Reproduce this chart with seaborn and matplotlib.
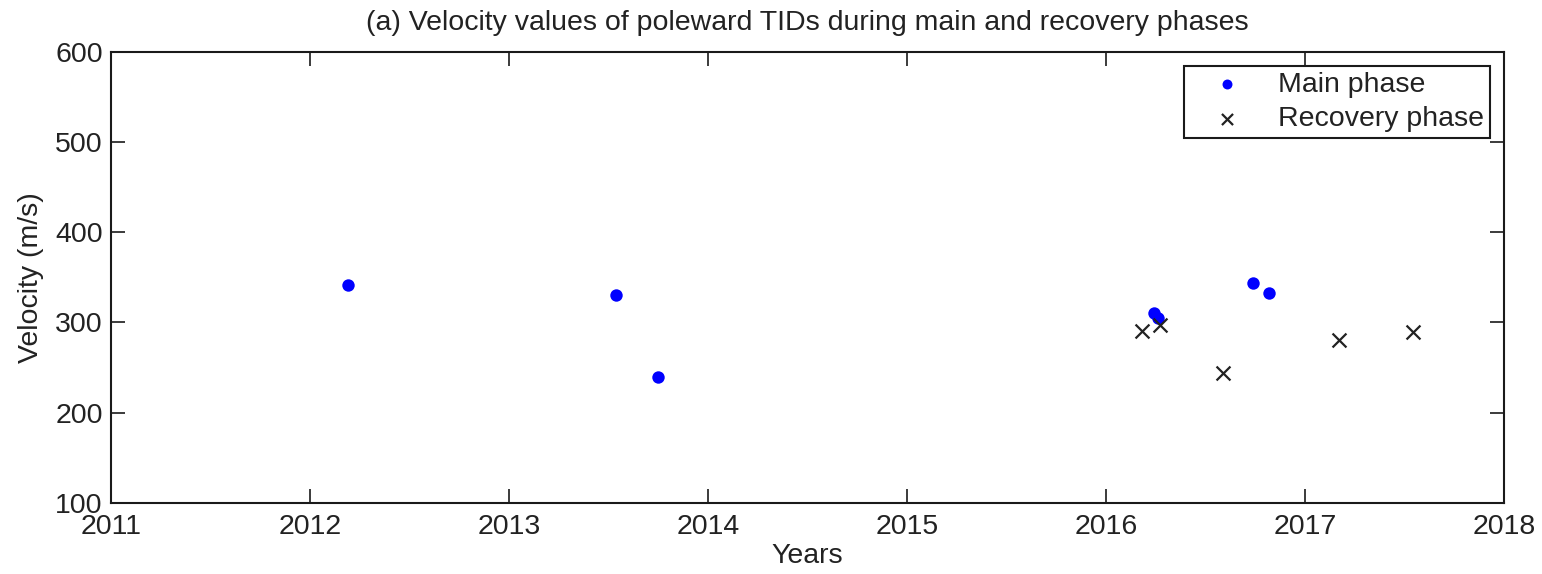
import matplotlib
matplotlib.use("Agg")
import matplotlib.pyplot as plt
import seaborn as sns
import pandas as pd

# Poleward TID velocities (decimal year, m/s)
main_years = [2012.19, 2013.535, 2013.75, 2016.24, 2016.26, 2016.74, 2016.82]
main_velocity = [341, 330, 240, 310, 305, 344, 333]

recovery_years = [2016.18, 2016.27, 2016.59, 2017.17, 2017.54]
recovery_velocity = [290, 297, 244, 281, 289]

x_ticks = [2011, 2012, 2013, 2014, 2015, 2016, 2017, 2018]
y_ticks = [100, 200, 300, 400, 500, 600]

sns.set_style("white")
plt.rcParams["font.family"] = ["Liberation Sans", "DejaVu Sans"]

main_df = pd.DataFrame({"year": main_years, "velocity": main_velocity})
rec_df = pd.DataFrame({"year": recovery_years, "velocity": recovery_velocity})

fig = plt.figure(figsize=(15.42, 5.74), dpi=100)
ax = fig.add_axes([0.072, 0.1242, 0.9034, 0.7852])

sns.scatterplot(data=main_df, x="year", y="velocity", ax=ax, color="#0000ff",
                marker="o", s=80, linewidth=0, label="Main phase")
sns.scatterplot(data=rec_df, x="year", y="velocity", ax=ax, color="#222222",
                marker="x", s=100, linewidth=1.6, label="Recovery phase")

ax.set_xlim(2011, 2018)
ax.set_ylim(100, 600)
ax.set_xticks(x_ticks)
ax.set_yticks(y_ticks)
ax.set_xticklabels([str(t) for t in x_ticks])
ax.set_yticklabels([str(t) for t in y_ticks])

for side in ["left", "right", "top", "bottom"]:
    ax.spines[side].set_visible(True)
    ax.spines[side].set_color("#1a1a1a")
    ax.spines[side].set_linewidth(1.5)

ax.tick_params(axis="both", which="major", direction="in", length=10, width=1.2,
               color="#1a1a1a", labelsize=20.5, labelcolor="#222222",
               top=True, right=True, bottom=True, left=True)
ax.tick_params(axis="y", pad=6)
ax.tick_params(axis="x", pad=8)

ax.set_xlabel("Years", fontsize=20.5, color="#222222", labelpad=2)
ax.set_ylabel("Velocity (m/s)", fontsize=20.5, color="#222222", labelpad=8)
ax.set_title("(a) Velocity values of poleward TIDs during main and recovery phases",
             fontsize=20.5, color="#222222", pad=16)

leg = ax.legend(loc="upper right", fontsize=20.5, frameon=True, fancybox=False,
                edgecolor="#1a1a1a", borderaxespad=0.5, handletextpad=0.5,
                handlelength=2.6, borderpad=0.2, labelspacing=0.3, markerscale=0.8)
leg.get_frame().set_linewidth(1.5)
leg.get_frame().set_alpha(1)
for t in leg.get_texts():
    t.set_color("#222222")

fig.savefig("out.png", dpi=100, facecolor="white")
